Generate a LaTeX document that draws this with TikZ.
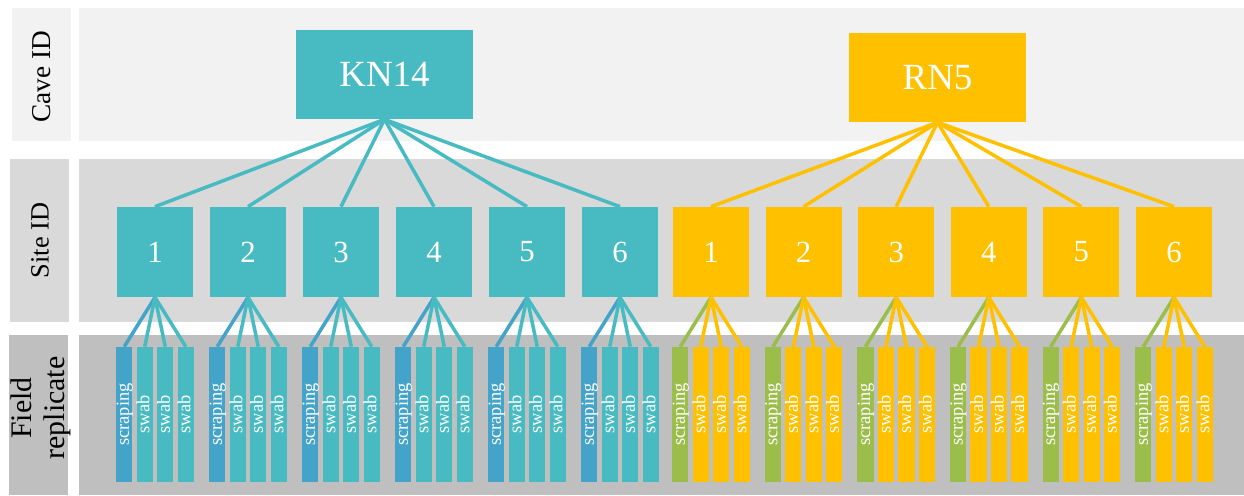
\documentclass[tikz,border=0pt]{standalone}
\usepackage{fontspec}
\setmainfont{Liberation Serif}
\usepackage{tikz}
\usetikzlibrary{positioning}
\usepackage{xcolor}
\definecolor{caveteal}{RGB}{72,187,194}
\definecolor{scrapeblue}{RGB}{68,163,200}
\definecolor{cavegold}{RGB}{255,192,0}
\definecolor{scrapegreen}{RGB}{155,190,75}
\definecolor{bandlight}{RGB}{242,242,242}
\definecolor{bandmid}{RGB}{217,217,217}
\definecolor{banddark}{RGB}{191,191,191}

\begin{document}
\begin{tikzpicture}[x=0.02cm, y=-0.02cm,
    cave/.style={rectangle, inner sep=0pt, minimum width=3.54cm, minimum height=1.78cm,
                 text=white, font=\fontsize{21}{24}\selectfont},
    site/.style={rectangle, inner sep=0pt, minimum width=1.52cm, minimum height=1.8cm,
                 text=white, font=\fontsize{17.5}{20}\selectfont},
    rep/.style={rectangle, rotate=90, inner sep=0pt, minimum width=2.7cm, minimum height=0.32cm,
                text height=7.2pt, text depth=2pt, text=white, font=\fontsize{10.5}{12}\selectfont},
    lab/.style={rotate=90, align=center, text=black},
    link/.style={line width=2pt}]
\useasboundingbox (0,0) rectangle (1244,495);
% bands
\fill[bandlight] (12,8) rectangle (71,141);
\fill[bandlight] (79,8) rectangle (1244,141);
\fill[bandmid] (10,159) rectangle (69,322);
\fill[bandmid] (79,159) rectangle (1244,322);
\fill[banddark] (9,335) rectangle (68,495);
\fill[banddark] (79,335) rectangle (1244,495);
\node[lab, font=\fontsize{15.5}{18}\selectfont] (lcave) at (41.5,77) {Cave ID};
\node[lab, font=\fontsize{15}{17}\selectfont] (lsite) at (40,240.5) {Site ID};
\node[lab, font=\fontsize{17}{18.5}\selectfont] (lrep) at (41,408) {Field\\replicate};
% caves
\node[cave, fill=caveteal] (kn) at (384.5,74.5) {KN14};
\node[cave, fill=cavegold] (rn) at (937.5,77.5) {RN5};
\foreach \i in {1,...,6} {
    \node[site, fill=caveteal] (k\i) at ({155+93*(\i-1)},252) {\i};
    \node[site, fill=cavegold] (r\i) at ({711+92.6*(\i-1)},252) {\i};
    \draw[link, caveteal] (kn.south) -- (k\i.north);
    \draw[link, cavegold] (rn.south) -- (r\i.north);
    \foreach \j/\lbl/\kc/\rc in {1/scraping/scrapeblue/scrapegreen, 2/swab/caveteal/cavegold,
                                 3/swab/caveteal/cavegold, 4/swab/caveteal/cavegold} {
        \node[rep, fill=\kc] (kb\i\j) at ({155+93*(\i-1)-30.75+20.5*(\j-1)},414.5) {\lbl};
        \node[rep, fill=\rc] (rb\i\j) at ({711+92.6*(\i-1)-30.75+20.5*(\j-1)},414.5) {\lbl};
        \draw[link, \kc] (k\i.south) -- (kb\i\j.east);
        \draw[link, \rc] (r\i.south) -- (rb\i\j.east);
    }
}
\end{tikzpicture}
\end{document}
